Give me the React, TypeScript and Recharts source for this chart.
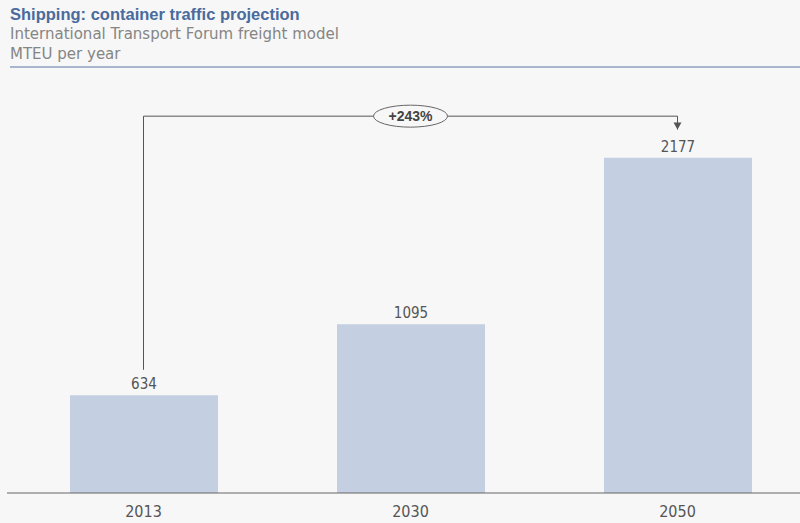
import React from "react";
import {
  BarChart,
  Bar,
  XAxis,
  YAxis,
  LabelList,
  ReferenceLine,
  ReferenceDot,
} from "recharts";

const years = ["2013", "2030", "2050"];
const teu = [634, 1095, 2177];
const growthLabel = "+243%";

const data = years.map((year, i) => ({ year, teu: teu[i] }));

const BAR = "#c4cfe2";
const INK = "#555555";
const FONT = "'Liberation Sans', 'DejaVu Sans', sans-serif";
const NARROW = "'Liberation Sans Narrow', 'DejaVu Sans Condensed', sans-serif";

// bracket levels (in MTEU on the value axis)
const BRACKET_Y = 2447;
const BRACKET_FROM = 800;
const ARROW_END = 2360;

const Arrow = (props: any) => {
  const { cx, cy } = props;
  return <path d={`M${cx - 4},${cy - 7} L${cx + 4},${cy - 7} L${cx},${cy} Z`} fill="#555" />;
};

const Bubble = (props: any) => {
  const { cx, cy } = props;
  return (
    <g>
      <ellipse cx={cx} cy={cy} rx={37} ry={11} fill="#f7f7f7" stroke="#666" strokeWidth={1} />
      <text
        x={cx}
        y={cy + 5}
        textAnchor="middle"
        fontFamily={FONT}
        fontWeight="bold"
        fontSize={14}
        fill="#444"
      >
        {growthLabel}
      </text>
    </g>
  );
};

const App: React.FC = () => (
  <div
    style={{
      position: "absolute",
      left: 0,
      top: 0,
      width: 800,
      height: 523,
      background: "#f7f7f7",
      overflow: "hidden",
    }}
  >
    <div style={{ position: "absolute", left: 10, top: 4, lineHeight: "20px" }}>
      <div style={{ color: "#4a6b9c", fontWeight: "bold", fontSize: 16.5, fontFamily: FONT }}>
        Shipping: container traffic projection
      </div>
      <div style={{ color: "#858585", fontSize: 15, fontFamily: "'DejaVu Sans', sans-serif" }}>
        International Transport Forum freight model
      </div>
      <div style={{ color: "#858585", fontSize: 15, fontFamily: "'DejaVu Sans', sans-serif" }}>
        MTEU per year
      </div>
    </div>
    <div
      style={{ position: "absolute", left: 10, top: 66, width: 790, height: 2, background: "#a7b5cf" }}
    />
    <div style={{ position: "absolute", left: 0, top: 0 }}>
      <BarChart
        width={811}
        height={523}
        data={data}
        margin={{ top: 108, right: 0, left: 7, bottom: 0 }}
        barSize={148}
      >
        <XAxis
          dataKey="year"
          height={30}
          padding={{ left: 3, right: 0 }}
          axisLine={{ stroke: "#666", strokeWidth: 1.2 }}
          tickLine={false}
          tick={{ fill: INK, fontSize: 16, fontFamily: NARROW }}
          tickMargin={7}
        />
        <YAxis hide domain={[0, 2500]} />
        <Bar dataKey="teu" fill={BAR} isAnimationActive={false}>
          <LabelList
            dataKey="teu"
            position="top"
            offset={6}
            fill={INK}
            fontSize={15}
            fontFamily={NARROW}
          />
        </Bar>
        <ReferenceLine
          segment={[
            { x: "2013", y: BRACKET_FROM },
            { x: "2013", y: BRACKET_Y },
          ]}
          stroke="#555"
          strokeWidth={1}
          ifOverflow="visible"
        />
        <ReferenceLine
          segment={[
            { x: "2013", y: BRACKET_Y },
            { x: "2050", y: BRACKET_Y },
          ]}
          stroke="#555"
          strokeWidth={1}
          ifOverflow="visible"
        />
        <ReferenceLine
          segment={[
            { x: "2050", y: BRACKET_Y },
            { x: "2050", y: ARROW_END },
          ]}
          stroke="#555"
          strokeWidth={1}
          ifOverflow="visible"
        />
        <ReferenceDot x="2050" y={ARROW_END} shape={Arrow} ifOverflow="visible" />
        <ReferenceDot x="2030" y={BRACKET_Y} shape={Bubble} ifOverflow="visible" />
      </BarChart>
    </div>
  </div>
);

export default App;
